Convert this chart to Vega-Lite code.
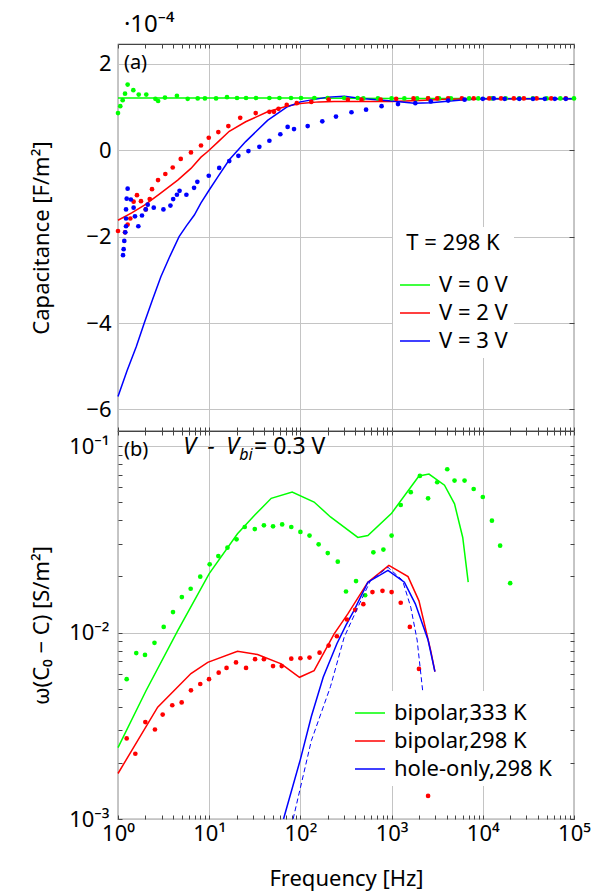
{
  "$schema": "https://vega.github.io/schema/vega-lite/v6.json",
  "padding": {"left": 29, "top": 12, "right": 2, "bottom": 2},
  "spacing": 0,
  "bounds": "flush",
  "resolve": {"scale": {"color": "independent"}, "legend": {"color": "independent"}},
  "config": {
    "font": "Noto Sans",
    "view": {"stroke": "#444", "strokeWidth": 1.2},
    "axis": {"gridColor": "#c4c4c4", "gridWidth": 1, "labelFontSize": 22, "labelColor": "#000", "titleFontSize": 22, "titleFontWeight": "normal", "titleColor": "#000", "tickColor": "#444", "tickWidth": 1, "domain": false, "labelFlush": false},
    "legend": {"labelFontSize": 22, "labelColor": "#000", "titleFontSize": 22, "titleFontWeight": "normal", "titleColor": "#000", "symbolType": "stroke", "symbolStrokeWidth": 1.5, "symbolSize": 900, "fillColor": "white", "padding": 6, "rowPadding": 1, "labelOffset": 8},
    "line": {"strokeWidth": 1.5}
  },
  "datasets": {
    "top_lines": [
      {"freq": 1, "cap": 1.21, "series": "V = 0 V"},
      {"freq": 10, "cap": 1.21, "series": "V = 0 V"},
      {"freq": 100, "cap": 1.21, "series": "V = 0 V"},
      {"freq": 1000, "cap": 1.2, "series": "V = 0 V"},
      {"freq": 10000, "cap": 1.2, "series": "V = 0 V"},
      {"freq": 100000, "cap": 1.2, "series": "V = 0 V"},
      {"freq": 1, "cap": -1.62, "series": "V = 2 V"},
      {"freq": 1.413, "cap": -1.45, "series": "V = 2 V"},
      {"freq": 1.95, "cap": -1.27, "series": "V = 2 V"},
      {"freq": 2.818, "cap": -1.02, "series": "V = 2 V"},
      {"freq": 4.519, "cap": -0.69, "series": "V = 2 V"},
      {"freq": 6.31, "cap": -0.42, "series": "V = 2 V"},
      {"freq": 8.128, "cap": -0.16, "series": "V = 2 V"},
      {"freq": 9.638, "cap": -0.03, "series": "V = 2 V"},
      {"freq": 12.59, "cap": 0.2, "series": "V = 2 V"},
      {"freq": 16.6, "cap": 0.44, "series": "V = 2 V"},
      {"freq": 25.12, "cap": 0.66, "series": "V = 2 V"},
      {"freq": 43.65, "cap": 0.89, "series": "V = 2 V"},
      {"freq": 70.79, "cap": 1.02, "series": "V = 2 V"},
      {"freq": 100, "cap": 1.08, "series": "V = 2 V"},
      {"freq": 158.5, "cap": 1.12, "series": "V = 2 V"},
      {"freq": 234.4, "cap": 1.13, "series": "V = 2 V"},
      {"freq": 398.1, "cap": 1.13, "series": "V = 2 V"},
      {"freq": 1000, "cap": 1.13, "series": "V = 2 V"},
      {"freq": 1995, "cap": 1.15, "series": "V = 2 V"},
      {"freq": 3981, "cap": 1.18, "series": "V = 2 V"},
      {"freq": 10000, "cap": 1.19, "series": "V = 2 V"},
      {"freq": 100000, "cap": 1.19, "series": "V = 2 V"},
      {"freq": 1, "cap": -5.7, "series": "V = 3 V"},
      {"freq": 1.259, "cap": -5.1, "series": "V = 3 V"},
      {"freq": 1.585, "cap": -4.55, "series": "V = 3 V"},
      {"freq": 1.941, "cap": -4.0, "series": "V = 3 V"},
      {"freq": 2.399, "cap": -3.45, "series": "V = 3 V"},
      {"freq": 2.951, "cap": -2.93, "series": "V = 3 V"},
      {"freq": 3.715, "cap": -2.45, "series": "V = 3 V"},
      {"freq": 4.677, "cap": -2.0, "series": "V = 3 V"},
      {"freq": 5.623, "cap": -1.75, "series": "V = 3 V"},
      {"freq": 6.871, "cap": -1.5, "series": "V = 3 V"},
      {"freq": 8.128, "cap": -1.22, "series": "V = 3 V"},
      {"freq": 10, "cap": -0.92, "series": "V = 3 V"},
      {"freq": 12.59, "cap": -0.6, "series": "V = 3 V"},
      {"freq": 16.6, "cap": -0.22, "series": "V = 3 V"},
      {"freq": 25.12, "cap": 0.2, "series": "V = 3 V"},
      {"freq": 43.65, "cap": 0.69, "series": "V = 3 V"},
      {"freq": 70.79, "cap": 1.0, "series": "V = 3 V"},
      {"freq": 100, "cap": 1.12, "series": "V = 3 V"},
      {"freq": 199.5, "cap": 1.23, "series": "V = 3 V"},
      {"freq": 302, "cap": 1.25, "series": "V = 3 V"},
      {"freq": 467.7, "cap": 1.2, "series": "V = 3 V"},
      {"freq": 1000, "cap": 1.14, "series": "V = 3 V"},
      {"freq": 1778, "cap": 1.09, "series": "V = 3 V"},
      {"freq": 2692, "cap": 1.1, "series": "V = 3 V"},
      {"freq": 6310, "cap": 1.17, "series": "V = 3 V"},
      {"freq": 10000, "cap": 1.19, "series": "V = 3 V"},
      {"freq": 100000, "cap": 1.19, "series": "V = 3 V"}
    ],
    "top_points": [
      {"freq": 1.0, "cap": 0.86, "series": "V = 0 V"},
      {"freq": 1.059, "cap": 1.02, "series": "V = 0 V"},
      {"freq": 1.125, "cap": 1.16, "series": "V = 0 V"},
      {"freq": 1.194, "cap": 1.31, "series": "V = 0 V"},
      {"freq": 1.276, "cap": 1.52, "series": "V = 0 V"},
      {"freq": 1.472, "cap": 1.39, "series": "V = 0 V"},
      {"freq": 1.687, "cap": 1.29, "series": "V = 0 V"},
      {"freq": 2.042, "cap": 1.29, "series": "V = 0 V"},
      {"freq": 2.57, "cap": 1.19, "series": "V = 0 V"},
      {"freq": 2.754, "cap": 1.14, "series": "V = 0 V"},
      {"freq": 3.273, "cap": 1.22, "series": "V = 0 V"},
      {"freq": 4.426, "cap": 1.26, "series": "V = 0 V"},
      {"freq": 5.808, "cap": 1.19, "series": "V = 0 V"},
      {"freq": 7.482, "cap": 1.2, "series": "V = 0 V"},
      {"freq": 8.974, "cap": 1.2, "series": "V = 0 V"},
      {"freq": 11.89, "cap": 1.2, "series": "V = 0 V"},
      {"freq": 15.67, "cap": 1.23, "series": "V = 0 V"},
      {"freq": 20.18, "cap": 1.21, "series": "V = 0 V"},
      {"freq": 25.35, "cap": 1.21, "series": "V = 0 V"},
      {"freq": 32.6, "cap": 1.21, "series": "V = 0 V"},
      {"freq": 45.71, "cap": 1.21, "series": "V = 0 V"},
      {"freq": 58.9, "cap": 1.21, "series": "V = 0 V"},
      {"freq": 78.9, "cap": 1.21, "series": "V = 0 V"},
      {"freq": 101.6, "cap": 1.21, "series": "V = 0 V"},
      {"freq": 142.2, "cap": 1.21, "series": "V = 0 V"},
      {"freq": 199.5, "cap": 1.21, "series": "V = 0 V"},
      {"freq": 302, "cap": 1.21, "series": "V = 0 V"},
      {"freq": 425, "cap": 1.21, "series": "V = 0 V"},
      {"freq": 490, "cap": 1.2, "series": "V = 0 V"},
      {"freq": 708, "cap": 1.2, "series": "V = 0 V"},
      {"freq": 1000, "cap": 1.2, "series": "V = 0 V"},
      {"freq": 1380, "cap": 1.2, "series": "V = 0 V"},
      {"freq": 1905, "cap": 1.2, "series": "V = 0 V"},
      {"freq": 2512, "cap": 1.2, "series": "V = 0 V"},
      {"freq": 3311, "cap": 1.2, "series": "V = 0 V"},
      {"freq": 4467, "cap": 1.2, "series": "V = 0 V"},
      {"freq": 7079, "cap": 1.2, "series": "V = 0 V"},
      {"freq": 8913, "cap": 1.2, "series": "V = 0 V"},
      {"freq": 12589, "cap": 1.2, "series": "V = 0 V"},
      {"freq": 17783, "cap": 1.2, "series": "V = 0 V"},
      {"freq": 25119, "cap": 1.2, "series": "V = 0 V"},
      {"freq": 35481, "cap": 1.2, "series": "V = 0 V"},
      {"freq": 50119, "cap": 1.2, "series": "V = 0 V"},
      {"freq": 70795, "cap": 1.2, "series": "V = 0 V"},
      {"freq": 100000, "cap": 1.2, "series": "V = 0 V"},
      {"freq": 1.0, "cap": -1.87, "series": "V = 2 V"},
      {"freq": 1.194, "cap": -1.9, "series": "V = 2 V"},
      {"freq": 1.276, "cap": -1.72, "series": "V = 2 V"},
      {"freq": 1.365, "cap": -1.58, "series": "V = 2 V"},
      {"freq": 1.483, "cap": -1.19, "series": "V = 2 V"},
      {"freq": 1.614, "cap": -1.04, "series": "V = 2 V"},
      {"freq": 1.786, "cap": -1.18, "series": "V = 2 V"},
      {"freq": 2.014, "cap": -1.37, "series": "V = 2 V"},
      {"freq": 2.228, "cap": -1.13, "series": "V = 2 V"},
      {"freq": 2.36, "cap": -0.9, "series": "V = 2 V"},
      {"freq": 2.748, "cap": -0.69, "series": "V = 2 V"},
      {"freq": 3.304, "cap": -0.55, "series": "V = 2 V"},
      {"freq": 3.981, "cap": -0.4, "series": "V = 2 V"},
      {"freq": 4.875, "cap": -0.2, "series": "V = 2 V"},
      {"freq": 6.31, "cap": -0.05, "series": "V = 2 V"},
      {"freq": 8.128, "cap": 0.11, "series": "V = 2 V"},
      {"freq": 9.886, "cap": 0.29, "series": "V = 2 V"},
      {"freq": 12.59, "cap": 0.42, "series": "V = 2 V"},
      {"freq": 16.22, "cap": 0.56, "series": "V = 2 V"},
      {"freq": 21.88, "cap": 0.75, "series": "V = 2 V"},
      {"freq": 32.36, "cap": 0.86, "series": "V = 2 V"},
      {"freq": 45.71, "cap": 0.89, "series": "V = 2 V"},
      {"freq": 51.29, "cap": 0.89, "series": "V = 2 V"},
      {"freq": 57.54, "cap": 0.96, "series": "V = 2 V"},
      {"freq": 70.79, "cap": 1.05, "series": "V = 2 V"},
      {"freq": 91.2, "cap": 1.09, "series": "V = 2 V"},
      {"freq": 131.8, "cap": 1.12, "series": "V = 2 V"},
      {"freq": 204.2, "cap": 1.17, "series": "V = 2 V"},
      {"freq": 331.1, "cap": 1.17, "series": "V = 2 V"},
      {"freq": 467.7, "cap": 1.17, "series": "V = 2 V"},
      {"freq": 758.6, "cap": 1.17, "series": "V = 2 V"},
      {"freq": 1122, "cap": 1.19, "series": "V = 2 V"},
      {"freq": 1738, "cap": 1.2, "series": "V = 2 V"},
      {"freq": 2512, "cap": 1.2, "series": "V = 2 V"},
      {"freq": 3162, "cap": 1.2, "series": "V = 2 V"},
      {"freq": 4169, "cap": 1.2, "series": "V = 2 V"},
      {"freq": 5888, "cap": 1.2, "series": "V = 2 V"},
      {"freq": 7943, "cap": 1.2, "series": "V = 2 V"},
      {"freq": 11749, "cap": 1.2, "series": "V = 2 V"},
      {"freq": 15849, "cap": 1.2, "series": "V = 2 V"},
      {"freq": 21878, "cap": 1.2, "series": "V = 2 V"},
      {"freq": 28184, "cap": 1.2, "series": "V = 2 V"},
      {"freq": 38905, "cap": 1.2, "series": "V = 2 V"},
      {"freq": 56234, "cap": 1.2, "series": "V = 2 V"},
      {"freq": 81283, "cap": 1.2, "series": "V = 2 V"},
      {"freq": 1.135, "cap": -2.43, "series": "V = 3 V"},
      {"freq": 1.153, "cap": -2.29, "series": "V = 3 V"},
      {"freq": 1.172, "cap": -2.1, "series": "V = 3 V"},
      {"freq": 1.202, "cap": -1.9, "series": "V = 3 V"},
      {"freq": 1.225, "cap": -1.76, "series": "V = 3 V"},
      {"freq": 1.225, "cap": -1.58, "series": "V = 3 V"},
      {"freq": 1.225, "cap": -1.37, "series": "V = 3 V"},
      {"freq": 1.245, "cap": -1.12, "series": "V = 3 V"},
      {"freq": 1.276, "cap": -0.89, "series": "V = 3 V"},
      {"freq": 1.384, "cap": -1.14, "series": "V = 3 V"},
      {"freq": 1.483, "cap": -1.33, "series": "V = 3 V"},
      {"freq": 1.535, "cap": -1.53, "series": "V = 3 V"},
      {"freq": 1.671, "cap": -1.76, "series": "V = 3 V"},
      {"freq": 1.832, "cap": -1.51, "series": "V = 3 V"},
      {"freq": 2.014, "cap": -1.37, "series": "V = 3 V"},
      {"freq": 2.118, "cap": -1.26, "series": "V = 3 V"},
      {"freq": 2.466, "cap": -1.33, "series": "V = 3 V"},
      {"freq": 3.148, "cap": -1.37, "series": "V = 3 V"},
      {"freq": 3.758, "cap": -1.28, "series": "V = 3 V"},
      {"freq": 4.027, "cap": -1.13, "series": "V = 3 V"},
      {"freq": 4.426, "cap": -1.03, "series": "V = 3 V"},
      {"freq": 4.732, "cap": -0.94, "series": "V = 3 V"},
      {"freq": 5.623, "cap": -1.03, "series": "V = 3 V"},
      {"freq": 6.823, "cap": -0.87, "series": "V = 3 V"},
      {"freq": 7.413, "cap": -0.73, "series": "V = 3 V"},
      {"freq": 9.886, "cap": -0.59, "series": "V = 3 V"},
      {"freq": 12.88, "cap": -0.41, "series": "V = 3 V"},
      {"freq": 16.6, "cap": -0.25, "series": "V = 3 V"},
      {"freq": 20.89, "cap": -0.13, "series": "V = 3 V"},
      {"freq": 26.92, "cap": -0.02, "series": "V = 3 V"},
      {"freq": 35.48, "cap": 0.08, "series": "V = 3 V"},
      {"freq": 45.71, "cap": 0.22, "series": "V = 3 V"},
      {"freq": 60.26, "cap": 0.37, "series": "V = 3 V"},
      {"freq": 72.44, "cap": 0.54, "series": "V = 3 V"},
      {"freq": 85.11, "cap": 0.49, "series": "V = 3 V"},
      {"freq": 120.2, "cap": 0.56, "series": "V = 3 V"},
      {"freq": 173.8, "cap": 0.67, "series": "V = 3 V"},
      {"freq": 245.5, "cap": 0.78, "series": "V = 3 V"},
      {"freq": 363.1, "cap": 0.88, "series": "V = 3 V"},
      {"freq": 524.8, "cap": 0.94, "series": "V = 3 V"},
      {"freq": 776.2, "cap": 1.02, "series": "V = 3 V"},
      {"freq": 1175, "cap": 1.07, "series": "V = 3 V"},
      {"freq": 1820, "cap": 1.09, "series": "V = 3 V"},
      {"freq": 2692, "cap": 1.13, "series": "V = 3 V"},
      {"freq": 4169, "cap": 1.15, "series": "V = 3 V"},
      {"freq": 6310, "cap": 1.17, "series": "V = 3 V"},
      {"freq": 10000, "cap": 1.19, "series": "V = 3 V"},
      {"freq": 13183, "cap": 1.2, "series": "V = 3 V"},
      {"freq": 17378, "cap": 1.19, "series": "V = 3 V"},
      {"freq": 25119, "cap": 1.19, "series": "V = 3 V"},
      {"freq": 35481, "cap": 1.19, "series": "V = 3 V"},
      {"freq": 47863, "cap": 1.19, "series": "V = 3 V"},
      {"freq": 61660, "cap": 1.19, "series": "V = 3 V"},
      {"freq": 81283, "cap": 1.19, "series": "V = 3 V"}
    ],
    "bot_lines": [
      {"freq": 1, "value": 0.002415, "series": "bipolar,333 K"},
      {"freq": 2.028, "value": 0.004875, "series": "bipolar,333 K"},
      {"freq": 4.519, "value": 0.01023, "series": "bipolar,333 K"},
      {"freq": 10, "value": 0.0207, "series": "bipolar,333 K"},
      {"freq": 20.42, "value": 0.0339, "series": "bipolar,333 K"},
      {"freq": 31.62, "value": 0.04266, "series": "bipolar,333 K"},
      {"freq": 47.86, "value": 0.05248, "series": "bipolar,333 K"},
      {"freq": 81.28, "value": 0.05675, "series": "bipolar,333 K"},
      {"freq": 141.3, "value": 0.05012, "series": "bipolar,333 K"},
      {"freq": 213.8, "value": 0.04169, "series": "bipolar,333 K"},
      {"freq": 426.6, "value": 0.03236, "series": "bipolar,333 K"},
      {"freq": 549.5, "value": 0.03311, "series": "bipolar,333 K"},
      {"freq": 1000, "value": 0.04365, "series": "bipolar,333 K"},
      {"freq": 1995, "value": 0.06918, "series": "bipolar,333 K"},
      {"freq": 2570, "value": 0.07079, "series": "bipolar,333 K"},
      {"freq": 3802, "value": 0.06166, "series": "bipolar,333 K"},
      {"freq": 4898, "value": 0.04898, "series": "bipolar,333 K"},
      {"freq": 6026, "value": 0.03236, "series": "bipolar,333 K"},
      {"freq": 6918, "value": 0.01862, "series": "bipolar,333 K"},
      {"freq": 1, "value": 0.001754, "series": "bipolar,298 K"},
      {"freq": 2.723, "value": 0.003981, "series": "bipolar,298 K"},
      {"freq": 6.31, "value": 0.006026, "series": "bipolar,298 K"},
      {"freq": 9.638, "value": 0.006918, "series": "bipolar,298 K"},
      {"freq": 20.42, "value": 0.007943, "series": "bipolar,298 K"},
      {"freq": 33.88, "value": 0.007621, "series": "bipolar,298 K"},
      {"freq": 61.66, "value": 0.006792, "series": "bipolar,298 K"},
      {"freq": 97.72, "value": 0.005754, "series": "bipolar,298 K"},
      {"freq": 141.3, "value": 0.006252, "series": "bipolar,298 K"},
      {"freq": 234.4, "value": 0.00984, "series": "bipolar,298 K"},
      {"freq": 331.1, "value": 0.01259, "series": "bipolar,298 K"},
      {"freq": 549.5, "value": 0.01862, "series": "bipolar,298 K"},
      {"freq": 933.3, "value": 0.02291, "series": "bipolar,298 K"},
      {"freq": 1514, "value": 0.01995, "series": "bipolar,298 K"},
      {"freq": 1995, "value": 0.01479, "series": "bipolar,298 K"},
      {"freq": 2692, "value": 0.007943, "series": "bipolar,298 K"},
      {"freq": 2985, "value": 0.006166, "series": "bipolar,298 K"},
      {"freq": 65.3, "value": 0.001, "series": "hole-only,298 K"},
      {"freq": 100, "value": 0.002089, "series": "hole-only,298 K"},
      {"freq": 131.8, "value": 0.003548, "series": "hole-only,298 K"},
      {"freq": 177.8, "value": 0.005754, "series": "hole-only,298 K"},
      {"freq": 251.2, "value": 0.00871, "series": "hole-only,298 K"},
      {"freq": 316.2, "value": 0.01096, "series": "hole-only,298 K"},
      {"freq": 389, "value": 0.01318, "series": "hole-only,298 K"},
      {"freq": 549.5, "value": 0.01862, "series": "hole-only,298 K"},
      {"freq": 912, "value": 0.02153, "series": "hole-only,298 K"},
      {"freq": 1380, "value": 0.01862, "series": "hole-only,298 K"},
      {"freq": 1820, "value": 0.01426, "series": "hole-only,298 K"},
      {"freq": 2512, "value": 0.00912, "series": "hole-only,298 K"},
      {"freq": 2985, "value": 0.006166, "series": "hole-only,298 K"}
    ],
    "bot_dashed": [
      {"freq": 83.2, "value": 0.001},
      {"freq": 131.8, "value": 0.00263},
      {"freq": 213.8, "value": 0.00513},
      {"freq": 302, "value": 0.00944},
      {"freq": 426.6, "value": 0.01368},
      {"freq": 588.8, "value": 0.01905},
      {"freq": 912, "value": 0.02239},
      {"freq": 1318, "value": 0.01905},
      {"freq": 1622, "value": 0.01368},
      {"freq": 1905, "value": 0.00912},
      {"freq": 2188, "value": 0.0049}
    ],
    "bot_points": [
      {"freq": 1.245, "value": 0.005623, "series": "bipolar,333 K"},
      {"freq": 1.585, "value": 0.007762, "series": "bipolar,333 K"},
      {"freq": 1.977, "value": 0.007586, "series": "bipolar,333 K"},
      {"freq": 2.512, "value": 0.00881, "series": "bipolar,333 K"},
      {"freq": 3.17, "value": 0.01072, "series": "bipolar,333 K"},
      {"freq": 4.009, "value": 0.01288, "series": "bipolar,333 K"},
      {"freq": 5.012, "value": 0.01549, "series": "bipolar,333 K"},
      {"freq": 6.266, "value": 0.01718, "series": "bipolar,333 K"},
      {"freq": 7.98, "value": 0.01995, "series": "bipolar,333 K"},
      {"freq": 10.12, "value": 0.02323, "series": "bipolar,333 K"},
      {"freq": 12.59, "value": 0.0257, "series": "bipolar,333 K"},
      {"freq": 15.85, "value": 0.02851, "series": "bipolar,333 K"},
      {"freq": 19.95, "value": 0.03162, "series": "bipolar,333 K"},
      {"freq": 24.55, "value": 0.03681, "series": "bipolar,333 K"},
      {"freq": 31.62, "value": 0.03589, "series": "bipolar,333 K"},
      {"freq": 39.81, "value": 0.03758, "series": "bipolar,333 K"},
      {"freq": 50.12, "value": 0.03715, "series": "bipolar,333 K"},
      {"freq": 63.1, "value": 0.03802, "series": "bipolar,333 K"},
      {"freq": 79.43, "value": 0.03681, "series": "bipolar,333 K"},
      {"freq": 100, "value": 0.03467, "series": "bipolar,333 K"},
      {"freq": 125.9, "value": 0.03311, "series": "bipolar,333 K"},
      {"freq": 158.5, "value": 0.02972, "series": "bipolar,333 K"},
      {"freq": 199.5, "value": 0.02667, "series": "bipolar,333 K"},
      {"freq": 257, "value": 0.02399, "series": "bipolar,333 K"},
      {"freq": 316.2, "value": 0.0166, "series": "bipolar,333 K"},
      {"freq": 407.4, "value": 0.01888, "series": "bipolar,333 K"},
      {"freq": 512.9, "value": 0.01585, "series": "bipolar,333 K"},
      {"freq": 631, "value": 0.02692, "series": "bipolar,333 K"},
      {"freq": 812.8, "value": 0.02786, "series": "bipolar,333 K"},
      {"freq": 1000, "value": 0.03311, "series": "bipolar,333 K"},
      {"freq": 1259, "value": 0.04831, "series": "bipolar,333 K"},
      {"freq": 1622, "value": 0.05662, "series": "bipolar,333 K"},
      {"freq": 2042, "value": 0.06918, "series": "bipolar,333 K"},
      {"freq": 2512, "value": 0.05248, "series": "bipolar,333 K"},
      {"freq": 3162, "value": 0.06397, "series": "bipolar,333 K"},
      {"freq": 4074, "value": 0.07516, "series": "bipolar,333 K"},
      {"freq": 4898, "value": 0.06531, "series": "bipolar,333 K"},
      {"freq": 6310, "value": 0.06531, "series": "bipolar,333 K"},
      {"freq": 7943, "value": 0.05888, "series": "bipolar,333 K"},
      {"freq": 10000, "value": 0.05333, "series": "bipolar,333 K"},
      {"freq": 12589, "value": 0.03981, "series": "bipolar,333 K"},
      {"freq": 15488, "value": 0.02924, "series": "bipolar,333 K"},
      {"freq": 19953, "value": 0.01841, "series": "bipolar,333 K"},
      {"freq": 1.245, "value": 0.002704, "series": "bipolar,298 K"},
      {"freq": 1.549, "value": 0.002239, "series": "bipolar,298 K"},
      {"freq": 1.995, "value": 0.003311, "series": "bipolar,298 K"},
      {"freq": 2.541, "value": 0.00302, "series": "bipolar,298 K"},
      {"freq": 3.09, "value": 0.003631, "series": "bipolar,298 K"},
      {"freq": 3.936, "value": 0.004074, "series": "bipolar,298 K"},
      {"freq": 4.989, "value": 0.004217, "series": "bipolar,298 K"},
      {"freq": 6.31, "value": 0.004898, "series": "bipolar,298 K"},
      {"freq": 7.98, "value": 0.005297, "series": "bipolar,298 K"},
      {"freq": 9.954, "value": 0.005623, "series": "bipolar,298 K"},
      {"freq": 12.71, "value": 0.006095, "series": "bipolar,298 K"},
      {"freq": 15.49, "value": 0.006457, "series": "bipolar,298 K"},
      {"freq": 19.68, "value": 0.006918, "series": "bipolar,298 K"},
      {"freq": 25.35, "value": 0.006457, "series": "bipolar,298 K"},
      {"freq": 31.84, "value": 0.007194, "series": "bipolar,298 K"},
      {"freq": 39.81, "value": 0.007194, "series": "bipolar,298 K"},
      {"freq": 50.12, "value": 0.006607, "series": "bipolar,298 K"},
      {"freq": 62.37, "value": 0.006607, "series": "bipolar,298 K"},
      {"freq": 79.43, "value": 0.007244, "series": "bipolar,298 K"},
      {"freq": 100, "value": 0.007278, "series": "bipolar,298 K"},
      {"freq": 125.9, "value": 0.007345, "series": "bipolar,298 K"},
      {"freq": 162.2, "value": 0.007798, "series": "bipolar,298 K"},
      {"freq": 204.2, "value": 0.008511, "series": "bipolar,298 K"},
      {"freq": 251.2, "value": 0.00955, "series": "bipolar,298 K"},
      {"freq": 323.6, "value": 0.01175, "series": "bipolar,298 K"},
      {"freq": 398.1, "value": 0.01324, "series": "bipolar,298 K"},
      {"freq": 489.8, "value": 0.01419, "series": "bipolar,298 K"},
      {"freq": 616.6, "value": 0.01648, "series": "bipolar,298 K"},
      {"freq": 794.3, "value": 0.01675, "series": "bipolar,298 K"},
      {"freq": 1000, "value": 0.01648, "series": "bipolar,298 K"},
      {"freq": 1259, "value": 0.01445, "series": "bipolar,298 K"},
      {"freq": 1585, "value": 0.01072, "series": "bipolar,298 K"},
      {"freq": 1995, "value": 0.006383, "series": "bipolar,298 K"},
      {"freq": 2512, "value": 0.00133, "series": "bipolar,298 K"}
    ]
  },
  "vconcat": [
    {
      "width": 456,
      "height": 387,
      "resolve": {"axis": {"x": "independent", "y": "independent"}},
      "layer": [
        {
          "data": {"name": "top_lines"},
          "mark": {"type": "line", "strokeWidth": 1.5},
          "encoding": {
            "x": {"field": "freq", "type": "quantitative", "scale": {"type": "log", "domain": [1, 100000]},
              "axis": {"orient": "bottom", "values": [1, 10, 100, 1000, 10000, 100000], "grid": true, "labels": false, "ticks": false, "title": null}},
            "y": {"field": "cap", "type": "quantitative", "scale": {"domain": [-6.5, 2.46], "nice": false, "zero": false},
              "axis": {"orient": "left", "values": [-6, -4, -2, 0, 2], "grid": true, "ticks": false, "labelPadding": 7,
                "labelExpr": "datum.value < 0 ? '−' + abs(datum.value) : '' + datum.value",
                "title": "Capacitance [F/m²]", "titleX": -77, "titleY": 193.5, "titleAngle": -90, "titleBaseline": "middle", "titleAlign": "center"}},
            "color": {"field": "series", "type": "nominal",
              "scale": {"domain": ["V = 0 V", "V = 2 V", "V = 3 V"], "range": ["#00ff00", "#ff0000", "#0000ff"]},
              "legend": {"orient": "none", "legendX": 275, "legendY": 183, "title": "T = 298 K", "titleAnchor": "middle", "titlePadding": 14, "symbolType": "stroke"}}
          }
        },
        {
          "data": {"name": "top_points"},
          "mark": {"type": "circle", "size": 22, "opacity": 1},
          "encoding": {
            "x": {"field": "freq", "type": "quantitative", "scale": {"type": "log", "domain": [1, 100000]},
              "axis": {"orient": "top", "values": [1,2,3,4,5,6,7,8,9,10,20,30,40,50,60,70,80,90,100,200,300,400,500,600,700,800,900,1000,2000,3000,4000,5000,6000,7000,8000,9000,10000,20000,30000,40000,50000,60000,70000,80000,90000,100000], "grid": false, "labels": false, "tickSize": -4, "title": null}},
            "y": {"field": "cap", "type": "quantitative", "scale": {"domain": [-6.5, 2.46], "nice": false, "zero": false},
              "axis": {"orient": "right", "values": [-6, -4, -2, 0, 2], "grid": false, "labels": false, "tickSize": -5, "title": null}},
            "color": {"field": "series", "type": "nominal", "scale": {"domain": ["V = 0 V", "V = 2 V", "V = 3 V"], "range": ["#00ff00", "#ff0000", "#0000ff"]}, "legend": null}
          }
        },
        {
          "data": {"values": [{}]},
          "mark": {"type": "text", "fontSize": 20, "align": "left", "baseline": "middle", "color": "#000"},
          "encoding": {
            "text": {"value": "(a)"},
            "x": {"datum": 1.16, "type": "quantitative", "scale": {"type": "log", "domain": [1, 100000]},
              "axis": {"orient": "bottom", "values": [1,2,3,4,5,6,7,8,9,10,20,30,40,50,60,70,80,90,100,200,300,400,500,600,700,800,900,1000,2000,3000,4000,5000,6000,7000,8000,9000,10000,20000,30000,40000,50000,60000,70000,80000,90000,100000], "grid": false, "labels": false, "tickSize": -4, "title": null}},
            "y": {"datum": 2.03, "type": "quantitative", "scale": {"domain": [-6.5, 2.46], "nice": false, "zero": false}, "axis": null}
          }
        },
        {
          "data": {"values": [{}]},
          "mark": {"type": "text", "fontSize": 24, "align": "left", "baseline": "alphabetic", "color": "#000"},
          "encoding": {
            "text": {"value": "·10⁻⁴"},
            "x": {"datum": 1.16, "type": "quantitative", "scale": {"type": "log", "domain": [1, 100000]}, "axis": null},
            "y": {"datum": 2.73, "type": "quantitative", "scale": {"domain": [-6.5, 2.46], "nice": false, "zero": false}, "axis": null}
          }
        }
      ]
    },
    {
      "width": 456,
      "height": 388,
      "resolve": {"axis": {"x": "independent", "y": "independent"}},
      "layer": [
        {
          "data": {"name": "bot_lines"},
          "mark": {"type": "line", "strokeWidth": 1.5},
          "encoding": {
            "x": {"field": "freq", "type": "quantitative", "scale": {"type": "log", "domain": [1, 100000]},
              "axis": {"orient": "bottom", "values": [1, 10, 100, 1000, 10000, 100000], "grid": true, "ticks": false, "labelPadding": 4,
                "labelExpr": "'10' + ['⁰','¹','²','³','⁴','⁵'][round(log(datum.value)/LN10)]",
                "title": "Frequency [Hz]", "titlePadding": 24}},
            "y": {"field": "value", "type": "quantitative", "scale": {"type": "log", "domain": [0.001, 0.1205], "nice": false},
              "axis": {"orient": "left", "values": [0.001, 0.01, 0.1], "grid": true, "ticks": false, "labelPadding": 9,
                "labelExpr": "datum.value < 0.005 ? '10⁻³' : datum.value < 0.05 ? '10⁻²' : '10⁻¹'",
                "title": "ω(C₀ − C) [S/m²]", "titleX": -77, "titleY": 194, "titleAngle": -90, "titleBaseline": "middle", "titleAlign": "center"}},
            "color": {"field": "series", "type": "nominal",
              "scale": {"domain": ["bipolar,333 K", "bipolar,298 K", "hole-only,298 K"], "range": ["#00ff00", "#ff0000", "#0000ff"]},
              "legend": {"orient": "none", "legendX": 230, "legendY": 260, "title": null, "symbolType": "stroke"}}
          }
        },
        {
          "data": {"name": "bot_points"},
          "mark": {"type": "circle", "size": 22, "opacity": 1},
          "encoding": {
            "x": {"field": "freq", "type": "quantitative", "scale": {"type": "log", "domain": [1, 100000]},
              "axis": {"orient": "top", "values": [1,2,3,4,5,6,7,8,9,10,20,30,40,50,60,70,80,90,100,200,300,400,500,600,700,800,900,1000,2000,3000,4000,5000,6000,7000,8000,9000,10000,20000,30000,40000,50000,60000,70000,80000,90000,100000], "grid": false, "labels": false, "tickSize": -4, "title": null}},
            "y": {"field": "value", "type": "quantitative", "scale": {"type": "log", "domain": [0.001, 0.1205], "nice": false},
              "axis": {"orient": "right", "values": [0.001,0.002,0.003,0.004,0.005,0.006,0.007,0.008,0.009,0.01,0.02,0.03,0.04,0.05,0.06,0.07,0.08,0.09,0.1], "grid": false, "labels": false, "tickSize": -4, "title": null}},
            "color": {"field": "series", "type": "nominal", "scale": {"domain": ["bipolar,333 K", "bipolar,298 K", "hole-only,298 K"], "range": ["#00ff00", "#ff0000", "#0000ff"]}, "legend": null}
          }
        },
        {
          "data": {"name": "bot_dashed"},
          "mark": {"type": "line", "strokeWidth": 1, "strokeDash": [5, 3], "color": "#0000ff"},
          "encoding": {
            "x": {"field": "freq", "type": "quantitative", "scale": {"type": "log", "domain": [1, 100000]},
              "axis": {"orient": "bottom", "values": [1,2,3,4,5,6,7,8,9,10,20,30,40,50,60,70,80,90,100,200,300,400,500,600,700,800,900,1000,2000,3000,4000,5000,6000,7000,8000,9000,10000,20000,30000,40000,50000,60000,70000,80000,90000,100000], "grid": false, "labels": false, "tickSize": -4, "title": null}},
            "y": {"field": "value", "type": "quantitative", "scale": {"type": "log", "domain": [0.001, 0.1205], "nice": false},
              "axis": {"orient": "left", "values": [0.001,0.002,0.003,0.004,0.005,0.006,0.007,0.008,0.009,0.01,0.02,0.03,0.04,0.05,0.06,0.07,0.08,0.09,0.1], "grid": false, "labels": false, "tickSize": -4, "title": null}}
          }
        },
        {
          "data": {"values": [{}]},
          "mark": {"type": "text", "fontSize": 20, "align": "left", "baseline": "middle", "color": "#000"},
          "encoding": {
            "text": {"value": "(b)"},
            "x": {"datum": 1.16, "type": "quantitative", "scale": {"type": "log", "domain": [1, 100000]}, "axis": null},
            "y": {"datum": 0.0955, "type": "quantitative", "scale": {"type": "log", "domain": [0.001, 0.1205], "nice": false}, "axis": null}
          }
        },
        {
          "data": {"values": [{}]},
          "mark": {"type": "text", "fontSize": 23, "fontStyle": "italic", "align": "right", "baseline": "middle", "color": "#000"},
          "encoding": {
            "text": {"value": "V\u2002\u2212\u2002V"},
            "x": {"datum": 21.2, "type": "quantitative", "scale": {"type": "log", "domain": [1, 100000]}, "axis": null},
            "y": {"datum": 0.099, "type": "quantitative", "scale": {"type": "log", "domain": [0.001, 0.1205], "nice": false}, "axis": null}
          }
        },
        {
          "data": {"values": [{}]},
          "mark": {"type": "text", "fontSize": 16, "fontStyle": "italic", "align": "left", "baseline": "middle", "color": "#000"},
          "encoding": {
            "text": {"value": "bi"},
            "x": {"datum": 21.4, "type": "quantitative", "scale": {"type": "log", "domain": [1, 100000]}, "axis": null},
            "y": {"datum": 0.0895, "type": "quantitative", "scale": {"type": "log", "domain": [0.001, 0.1205], "nice": false}, "axis": null}
          }
        },
        {
          "data": {"values": [{}]},
          "mark": {"type": "text", "fontSize": 23, "align": "left", "baseline": "middle", "color": "#000"},
          "encoding": {
            "text": {"value": "= 0.3 V"},
            "x": {"datum": 31.0, "type": "quantitative", "scale": {"type": "log", "domain": [1, 100000]}, "axis": null},
            "y": {"datum": 0.099, "type": "quantitative", "scale": {"type": "log", "domain": [0.001, 0.1205], "nice": false}, "axis": null}
          }
        }
      ]
    }
  ]
}
